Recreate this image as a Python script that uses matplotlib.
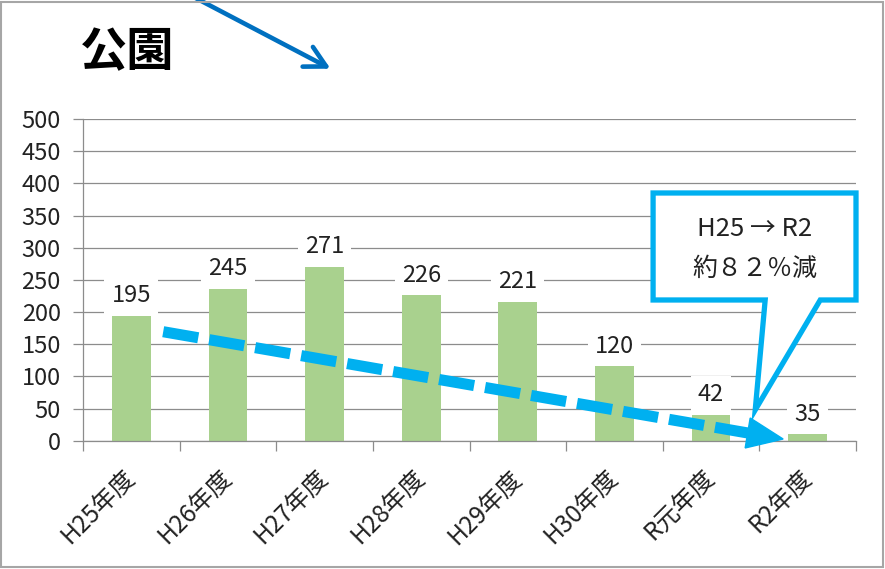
import matplotlib
matplotlib.use("Agg")
import matplotlib.pyplot as plt
from matplotlib.patches import Polygon, Rectangle
import numpy as np

plt.rcParams['font.family'] = ['Noto Sans CJK JP', 'DejaVu Sans']

# Data
title = "公園"
years = ["H25年度", "H26年度", "H27年度", "H28年度", "H29年度", "H30年度",
         "R元年度", "R2年度"]
# bar heights as they are drawn
heights = [194, 236, 270, 226, 216, 116, 40, 10]
# value labels as printed above the bars
value_labels = ["195", "245", "271", "226", "221", "120", "42", "35"]
yticks = [0, 50, 100, 150, 200, 250, 300, 350, 400, 450, 500]
callout_lines = ["H25 → R2", "約８２％減"]

green = "#A9D18E"
cyan = "#00B0F0"
blue = "#0070C0"
grey = "#8C8C8C"
ink = "#222222"

fig = plt.figure(figsize=(8.85, 5.69), dpi=100)
W, H = 885, 569
ax = fig.add_axes([83 / W, 1 - 440.7 / H, (856 - 83) / W, (440.7 - 119) / H])

x = np.arange(len(years))
ax.bar(x, heights, width=0.4, color=green, zorder=2)

ax.set_xlim(-0.5, len(years) - 0.5)
ax.set_ylim(0, 500)
ax.set_yticks(yticks)
ax.set_axisbelow(True)
ax.grid(axis='y', color=grey, lw=0.9)

for s in ['top', 'right']:
    ax.spines[s].set_visible(False)
for s in ['left', 'bottom']:
    ax.spines[s].set_color(grey)
    ax.spines[s].set_linewidth(0.9)

ax.tick_params(axis='y', length=7, width=0.9, color=grey, labelsize=17,
               pad=9, labelcolor=ink)

# category labels at centres, tick marks at the boundaries
ax.set_xticks(x)
ax.set_xticklabels(years, rotation=45, ha='right', va='center',
                   rotation_mode='anchor', fontsize=17.5, color=ink)
ax.tick_params(axis='x', which='major', length=0, pad=24)
ax.set_xticks(np.arange(-0.5, len(years), 1), minor=True)
ax.tick_params(axis='x', which='minor', length=7, width=0.9, color=grey)

# value labels with white boxes that hide the gridlines
for i, (h, lab) in enumerate(zip(heights, value_labels)):
    ax.annotate(lab, (i, h), xytext=(0, 20), textcoords='offset pixels',
                ha='center', va='center', fontsize=17, color=ink,
                bbox=dict(boxstyle='square,pad=0.3', fc='white', ec='none'),
                zorder=1)

# dashed trend arrow
ax.plot([0.33, 6.38], [169.4, 12], color=cyan, lw=8,
        ls=(0, (3.2, 1.0)), dash_capstyle='butt', zorder=3, clip_on=False)
head = Polygon([[6.405, 35.3], [6.746, 2.6], [6.353, -11.3]], closed=True,
               fc=cyan, ec=cyan, lw=1, zorder=3, clip_on=False)
ax.add_patch(head)

# callout box
callout = Polygon([[5.40, 385], [7.5, 385], [7.5, 218.7], [7.13, 218.7],
                   [6.457, 47.8], [6.56, 218.7], [5.40, 218.7]],
                  closed=True, fc='white', ec=cyan, lw=3.8,
                  joinstyle='miter', zorder=4, clip_on=False)
ax.add_patch(callout)
ax.text(6.45, 329.5, callout_lines[0], ha='center', va='center',
        fontsize=18.5, color=ink, zorder=5)
ax.text(6.45, 267.3, callout_lines[1], ha='center', va='center',
        fontsize=18, color=ink, zorder=5)

# title and the blue arrow at the top
fig.text(80 / W, 1 - 52 / H, title, fontsize=34, fontweight='bold',
         ha='left', va='center')
ax.annotate('', xy=(333, H - 70), xycoords='figure pixels',
            xytext=(188, H + 6), textcoords='figure pixels',
            arrowprops=dict(arrowstyle='->,head_length=1.5,head_width=0.8',
                            color=blue, lw=3.3),
            annotation_clip=False)

# thin frame round the whole picture
fig.add_artist(Rectangle((0.001, 0.004), 0.997, 0.992,
                         transform=fig.transFigure, fill=False,
                         ec='#A6A6A6', lw=1.5))

fig.savefig("out.png", dpi=100)
